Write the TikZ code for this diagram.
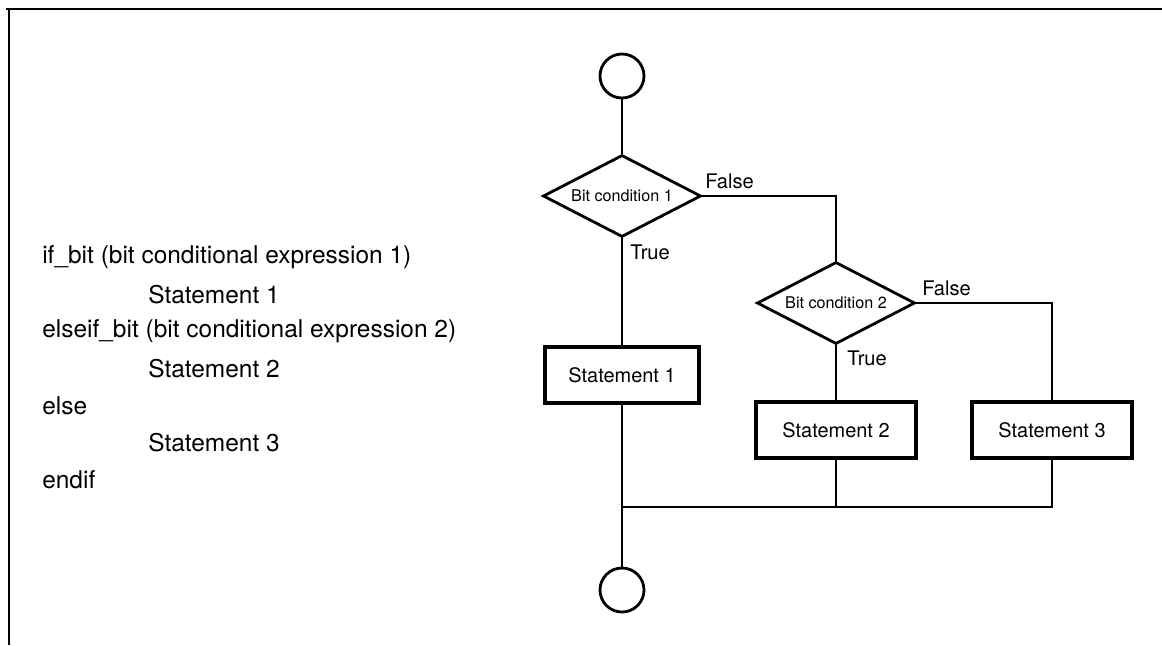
\documentclass[tikz,border=0pt]{standalone}
\usepackage{fontspec}
\setmainfont{TeX Gyre Heros}
\usetikzlibrary{shapes.geometric}

\begin{document}
\begin{tikzpicture}[
    x=0.025cm, y=-0.025cm,
    term/.style={draw, circle, line width=2pt, minimum size=1.1cm, inner sep=0pt},
    cond/.style={draw, diamond, shape aspect=1.9, line width=2pt, minimum width=3.95cm, minimum height=2.05cm, inner sep=0pt, font=\fontsize{11.5}{13}\selectfont},
    stmt/.style={draw, rectangle, line width=2.2pt, minimum height=1.4cm, inner sep=0pt, font=\fontsize{14.2}{16}\selectfont},
    lnk/.style={line width=1pt},
    tag/.style={font=\fontsize{14.3}{16}\selectfont, inner sep=0pt, anchor=west},
    code/.style={font=\fontsize{17.4}{20}\selectfont, inner sep=0pt, anchor=west},
  ]
    \useasboundingbox (0,0) rectangle (1162,645);

    % frame (top and left edge only)
    \draw[line width=2pt] (6,9) -- (1162,9);
    \draw[line width=2pt] (9,9) -- (9,645);

    % === program text ===
    \foreach \k/\xx/\txt in {0/42/{if\_bit (bit conditional expression 1)},
                             1/148/{Statement 1},
                             2/42/{elseif\_bit (bit conditional expression 2)},
                             3/148/{Statement 2},
                             4/42/{else},
                             5/148/{Statement 3},
                             6/42/{endif}} {
      \node[code] (code\k) at (\xx, 257+\k*37.2) {\txt};
    }

    % === flow chart ===
    \node[term] (start) at (622, 76) {};
    \node[cond] (bc1) at (622, 196) {Bit condition 1};
    \node[stmt, minimum width=3.85cm] (st1) at (622, 375) {Statement 1};
    \node[cond] (bc2) at (836, 303) {Bit condition 2};
    \node[stmt, minimum width=4cm] (st2) at (836, 430) {Statement 2};
    \node[stmt, minimum width=4cm] (st3) at (1052, 430) {Statement 3};
    \node[term] (stop) at (622, 590) {};
    \coordinate (merge) at (622, 507);

    % branch labels
    \node[tag] (f1) at (705, 181) {False};
    \node[tag] (t1) at (630, 252) {True};
    \node[tag] (f2) at (922, 288) {False};
    \node[tag] (t2) at (847, 358) {True};

    % connectors
    \draw[lnk] (start) -- (bc1);
    \draw[lnk] (bc1) -- (st1);
    \draw[lnk] (bc1.east) -| (bc2.north);
    \draw[lnk] (bc2) -- (st2);
    \draw[lnk] (bc2.east) -| (st3.north);
    \draw[lnk] (st1) -- (stop);
    \draw[lnk] (st3.south) |- (merge);
    \draw[lnk] (st2.south) -- (st2.south |- merge);
  \end{tikzpicture}
\end{document}
